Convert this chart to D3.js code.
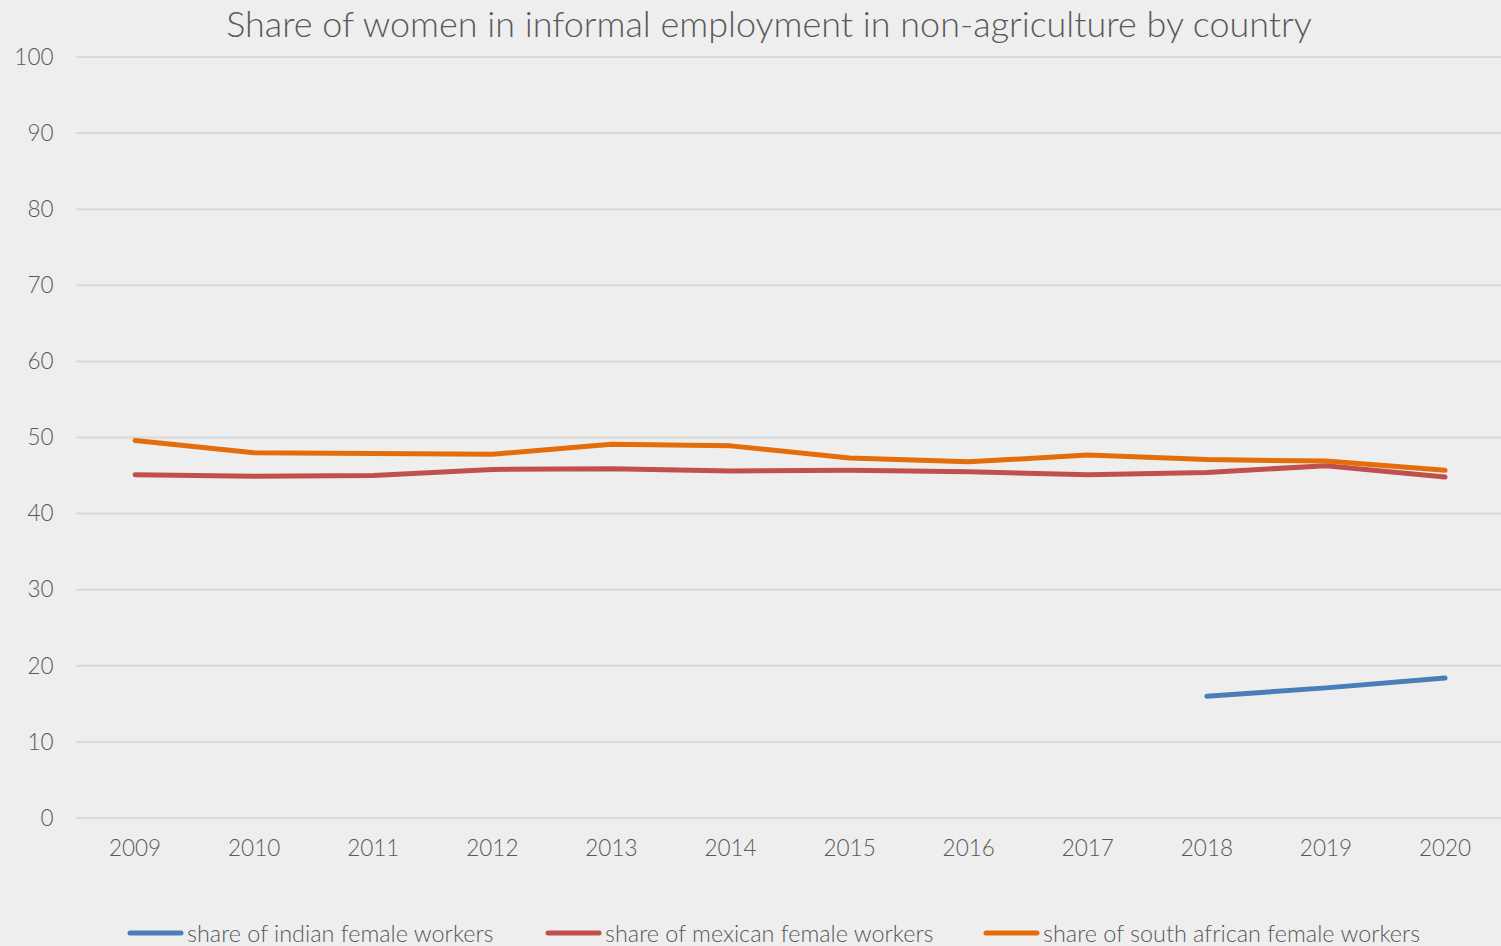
<!DOCTYPE html>
<html><head><meta charset="utf-8">
<script src="https://cdn.jsdelivr.net/npm/d3@7"></script>
<style>
html,body{margin:0;padding:0;background:#eeeeee;}
svg{display:block;}
text{font-family:"Lato","Open Sans",sans-serif;font-weight:300;fill:#595959;}
</style></head>
<body>
<svg id="chart" width="1501" height="946"></svg>
<script>
const years = ["2009","2010","2011","2012","2013","2014","2015","2016","2017","2018","2019","2020"];
const indian = [null,null,null,null,null,null,null,null,null,16.0,17.1,18.4];
const mexican = [45.1,44.9,45.0,45.8,45.9,45.6,45.7,45.5,45.1,45.4,46.3,44.8];
const southAfrican = [49.6,48.0,47.9,47.8,49.1,48.9,47.3,46.8,47.7,47.1,46.9,45.7];
const yTicks = [0,10,20,30,40,50,60,70,80,90,100];
const seriesNames = ["share of indian female workers","share of mexican female workers","share of south african female workers"];
const colors = ["#4a7ebb","#c0504d","#e46c0a"];
const title = "Share of women in informal employment in non-agriculture by country";

(function(){
const svg = d3.select("#chart");
svg.append("rect").attr("width",1501).attr("height",946).attr("fill","#eeeeee");

const plotLeft = 75.5, plotRight = 1504.6, plotTop = 57, plotBottom = 818;
const x = d3.scaleBand().domain(years).range([plotLeft,plotRight]);
const y = d3.scaleLinear().domain([0,100]).range([plotBottom,plotTop]);

svg.append("g").selectAll("line").data(yTicks).join("line")
  .attr("x1",76).attr("x2",1501)
  .attr("y1",d=>y(d)).attr("y2",d=>y(d))
  .attr("stroke","#d9d9d9").attr("stroke-width",2);

const yAxis = svg.append("g").attr("transform",`translate(${plotLeft},0)`)
  .call(d3.axisLeft(y).tickValues(yTicks).tickSize(0).tickPadding(22));
yAxis.select(".domain").remove();
yAxis.selectAll("text").style("font-size","22.5px").attr("fill","#595959")
  .style("font-family",'"Lato","Open Sans",sans-serif').style("font-weight",300);

const xAxis = svg.append("g").attr("transform",`translate(0,${plotBottom})`)
  .call(d3.axisBottom(x).tickSize(0).tickPadding(22));
xAxis.select(".domain").remove();
xAxis.selectAll("text").style("font-size","22.5px").attr("fill","#595959")
  .style("font-family",'"Lato","Open Sans",sans-serif').style("font-weight",300);

const line = d3.line()
  .defined(d=>d.v!=null)
  .x(d=>x(d.year)+x.bandwidth()/2)
  .y(d=>y(d.v));
[indian,mexican,southAfrican].forEach((arr,i)=>{
  const data = years.map((yr,j)=>({year:yr,v:arr[j]}));
  svg.append("path").datum(data).attr("d",line)
    .attr("fill","none").attr("stroke",colors[i]).attr("stroke-width",5)
    .attr("stroke-linecap","round").attr("stroke-linejoin","round");
});

const t = svg.append("text").attr("x",769).attr("y",37).attr("text-anchor","middle")
  .style("font-size","34px").text(title);
const tw = t.node().getComputedTextLength();
t.style("font-size",(34*1086/tw)+"px");

const legX = [128,546,984];
seriesNames.forEach((n,i)=>{
  svg.append("line").attr("x1",legX[i]+2).attr("x2",legX[i]+53).attr("y1",933).attr("y2",933)
    .attr("stroke",colors[i]).attr("stroke-width",5).attr("stroke-linecap","round");
  svg.append("text").attr("x",legX[i]+59).attr("y",942).style("font-size","23.4px").text(n);
});
})();
</script>
</body></html>
